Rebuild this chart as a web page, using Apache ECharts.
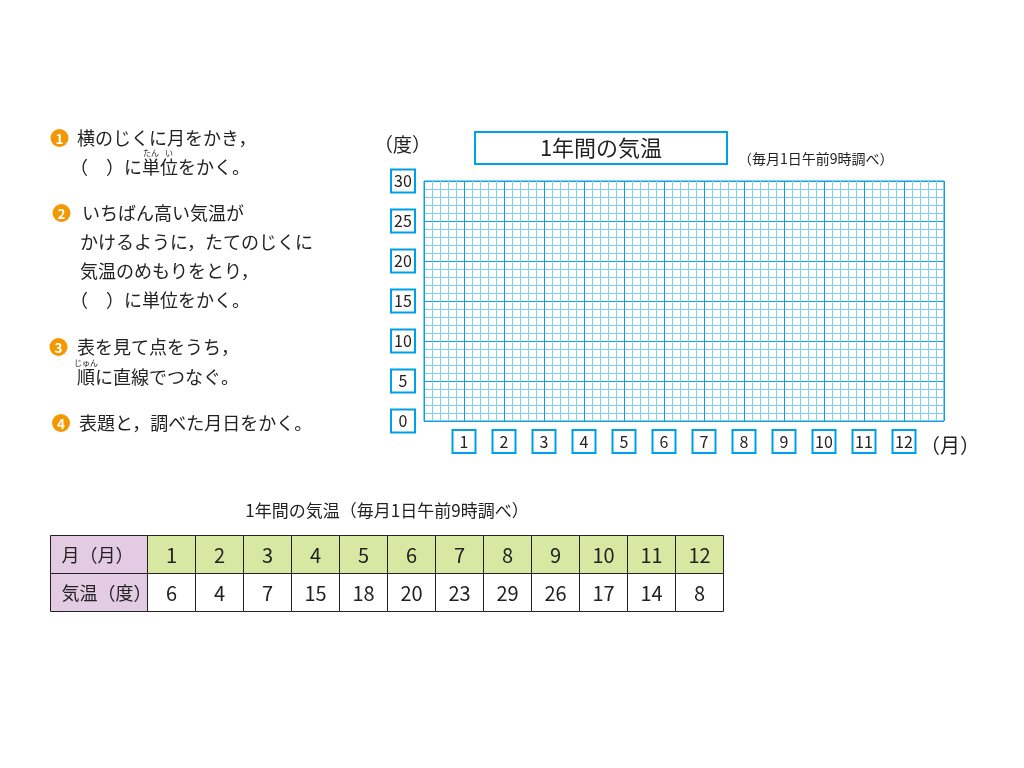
<!DOCTYPE html>
<html>
<head>
<meta charset="utf-8">
<script src="https://cdn.jsdelivr.net/npm/echarts@6/dist/echarts.min.js"></script>
<style>
html,body{margin:0;padding:0;background:#fff;}
#chart{width:1024px;height:768px;}
</style>
</head>
<body>
<div id="chart"></div>
<script>
// ---- data ----
const months = [1,2,3,4,5,6,7,8,9,10,11,12];
const temps = [6,4,7,15,18,20,23,29,26,17,14,8];
const yTicks = [0,5,10,15,20,25,30];
const chartTitle = '1年間の気温';
const chartNote = '（毎月1日午前9時調べ）';
const tableTitle = '1年間の気温（毎月1日午前9時調べ）';
const rowHeaders = ['月（月）','気温（度）'];
const yUnit = '（度）';
const xUnit = '（月）';
const steps = [
  {num:'1', lines:['横のじくに月をかき，','（　）に単位をかく。']},
  {num:'2', lines:['いちばん高い気温が','かけるように，たてのじくに','気温のめもりをとり，','（　）に単位をかく。']},
  {num:'3', lines:['表を見て点をうち，','順に直線でつなぐ。']},
  {num:'4', lines:['表題と，調べた月日をかく。']}
];

// ---- style / layout ----
const FONT = '"Noto Sans CJK JP", "Noto Sans", sans-serif';
const BLUE = '#00a0e9';
const MAJOR = '#129fdd';
const MINOR = '#7fcff0';
const TXT = '#222';

const boxRich = (w) => ({
  b: {width:w, height:21, lineHeight:21, align:'center', verticalAlign:'middle',
      borderColor:BLUE, borderWidth:2, backgroundColor:'#fff',
      fontSize:16, color:TXT, fontFamily:FONT}
});

const graphics = [];
function txt(x,y,s,size,opt){
  graphics.push({type:'text', x:x, y:y, style:Object.assign({text:s, fontSize:size, fontFamily:FONT, fill:TXT, textVerticalAlign:'middle'}, opt||{})});
}

// instructions
const FS = 18;
const stepY = [[138,167],[213,242,271,300],[347,377],[423]];
const circX = [59.5,61.5,58.5,61];
const textX = [[77,70],[82,80,80,70],[77,77],[79]];
steps.forEach((s,i)=>{
  graphics.push({type:'circle', shape:{cx:circX[i], cy:stepY[i][0], r:9}, style:{fill:'#f39800'}});
  txt(circX[i], stepY[i][0]+0.5, s.num, 13.5, {fill:'#fff', fontWeight:'bold', textAlign:'center'});
  s.lines.forEach((l,j)=>txt(textX[i][j], stepY[i][j], l, FS));
});
// ruby (furigana) above 単位 and 順
txt(70 + 4.5*FS, 153, 'たん', 8, {textAlign:'center'});
txt(70 + 5.5*FS, 153, 'い', 8, {textAlign:'center'});
txt(77 + 0.5*FS, 363, 'じゅん', 8, {textAlign:'center'});

// chart texts
txt(374, 145, yUnit, 19);
graphics.push({type:'rect', shape:{x:475, y:132, width:252, height:32}, style:{fill:'#fff', stroke:BLUE, lineWidth:2}});
txt(601, 148, chartTitle, 22, {textAlign:'center'});
txt(738, 159, chartNote, 14);
txt(920, 445, xUnit, 20);

// table
const T = {left:50.5, top:535.5, headW:97, colW:48, rowH:38};
txt(T.left + (T.headW + T.colW*months.length)/2, 511, tableTitle, 17, {textAlign:'center'});
const rows = [months, temps];
rows.forEach((vals,r)=>{
  const y = T.top + r*T.rowH;
  graphics.push({type:'rect', shape:{x:T.left, y:y, width:T.headW, height:T.rowH}, style:{fill:'#e3cbe4', stroke:TXT, lineWidth:1}});
  txt(T.left+11, y+T.rowH/2+1, rowHeaders[r], 18);
  vals.forEach((v,c)=>{
    const x = T.left + T.headW + c*T.colW;
    graphics.push({type:'rect', shape:{x:x, y:y, width:T.colW, height:T.rowH}, style:{fill: r===0 ? '#d7e8a2' : '#fff', stroke:TXT, lineWidth:1}});
    txt(x+T.colW/2, y+T.rowH/2+1, String(v), 20, {textAlign:'center'});
  });
});

const chart = echarts.init(document.getElementById('chart'), null, {renderer:'canvas'});
chart.setOption({
  backgroundColor:'#fff',
  animation:false,
  grid:{left:424, top:181, width:520, height:240, show:true, borderColor:MAJOR, borderWidth:1, backgroundColor:'transparent'},
  xAxis:{
    type:'value', min:0, max:13, interval:1,
    axisLine:{show:false}, axisTick:{show:false},
    splitLine:{show:true, lineStyle:{color:MAJOR, width:1}},
    minorTick:{show:false, splitNumber:5},
    minorSplitLine:{show:true, lineStyle:{color:MINOR, width:1}},
    axisLabel:{margin:10, showMinLabel:true, showMaxLabel:true,
      formatter:(v)=> months.indexOf(v) >= 0 ? '{b|'+v+'}' : '',
      rich:boxRich(21)}
  },
  yAxis:{
    type:'value', min:0, max:30, interval:5,
    axisLine:{show:false}, axisTick:{show:false},
    splitLine:{show:true, lineStyle:{color:MAJOR, width:1}},
    minorTick:{show:false, splitNumber:5},
    minorSplitLine:{show:true, lineStyle:{color:MINOR, width:1}},
    axisLabel:{margin:10,
      formatter:(v)=> yTicks.indexOf(v) >= 0 ? '{b|'+v+'}' : '',
      rich:boxRich(22)}
  },
  series:[{type:'line', data:[], silent:true}],
  graphic:graphics
});
</script>
</body>
</html>
